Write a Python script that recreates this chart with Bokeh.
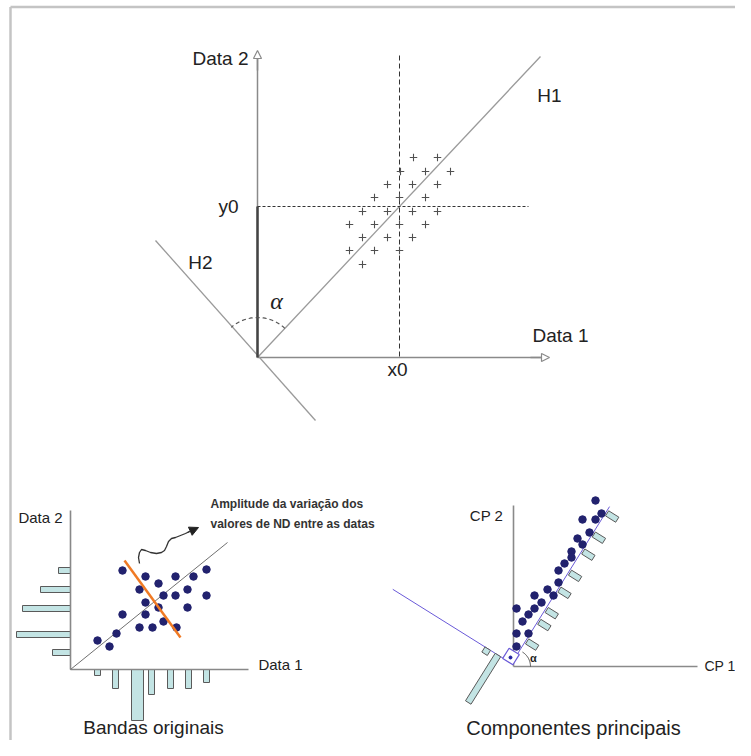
import numpy as np
from bokeh.plotting import figure
from bokeh.models import Range1d, Arrow, NormalHead
from bokeh.core.properties import value
from bokeh.embed import file_html
from bokeh.resources import INLINE

# ---------------- data ----------------
# top panel: "+" scatter
plus_x = [413, 437, 400, 425, 450, 387, 412, 437, 374, 399, 425, 362, 387, 412, 437,
          349, 374, 399, 425, 362, 387, 412, 349, 374, 399, 362]
plus_y = [157, 157, 171, 171, 171, 184, 184, 184, 197, 197, 197, 211, 211, 211, 211,
          224, 224, 224, 224, 237, 237, 237, 250, 250, 250, 264]
x0_val = 399
y0_val = 206

# bottom-left: original bands scatter
band_x = [122, 145, 158, 175, 193, 206, 139, 163, 175, 187, 206, 145, 158, 187,
          122, 145, 139, 152, 163, 176, 116, 97, 109]
band_y = [570, 576, 583, 576, 576, 569, 589, 595, 595, 589, 595, 602, 607, 607,
          614, 614, 627, 627, 621, 627, 633, 640, 646]
# histogram on Data 2 (horizontal bars) and Data 1 (vertical bars)
hist2_pos = [570, 589, 608, 634, 652]
hist2_len = [12, 30, 48, 54, 18]
hist1_pos = [97, 115, 137, 151, 170, 188, 206]
hist1_len = [6, 19, 51, 25, 19, 19, 13]
hist1_wid = [6, 6, 12, 6, 6, 6, 6]

# bottom-right: principal components scatter
pc_x = [595, 601, 582, 595, 589, 577, 582, 571, 571, 564, 558, 558, 547, 534,
        553, 541, 534, 528, 516, 522, 516, 528, 516]
pc_y = [500, 513, 519, 519, 532, 538, 544, 551, 557, 563, 570, 582, 589, 595,
        595, 602, 608, 614, 608, 621, 633, 633, 646]
# histogram along CP axes: position along axis, bar length
pc1_bar_pos = [27, 50, 64, 88, 108, 133, 153, 178]
pc1_bar_len = [12, 12, 12, 12, 12, 12, 12, 12]
pc2_bar_pos = [16, 28]
pc2_bar_len = [56, 6]

# ---------------- figure ----------------
p = figure(width=735, height=740, x_range=Range1d(0, 735), y_range=Range1d(740, 0),
           output_backend="svg", toolbar_location=None, min_border=0,
           x_axis_type=None, y_axis_type=None)
p.grid.visible = False
p.outline_line_color = None
p.background_fill_color = "white"

FONT = "Liberation Sans"


def txt(x, y, s, size, align="center", baseline="middle", color="#222222",
        style="normal", font=FONT):
    p.text(x=[x], y=[y], text=[s], text_font=value(font),
           text_font_size=f"{size}px", text_align=align, text_baseline=baseline,
           text_color=color, text_font_style=style)


def arc_pts(cx, cy, r, a0, a1, n=40):
    a = np.radians(np.linspace(a0, a1, n))
    return cx + r * np.cos(a), cy + r * np.sin(a)


def rot_rect(cx, cy, length, width, ang):
    u = np.array([np.cos(np.radians(ang)), np.sin(np.radians(ang))])
    v = np.array([-u[1], u[0]])
    c = np.array([cx, cy])
    pts = [c + length / 2 * u + width / 2 * v, c + length / 2 * u - width / 2 * v,
           c - length / 2 * u - width / 2 * v, c - length / 2 * u + width / 2 * v]
    return [q[0] for q in pts], [q[1] for q in pts]


# frame
p.line([10, 735], [6.5, 6.5], line_color="#c4c4c4", line_width=2.5)
p.line([10, 10], [6.5, 740], line_color="#c4c4c4", line_width=2.5)

# ---------------- top panel ----------------
ox, oy = 257, 357
AX = "#8a8a8a"
# axes
p.line([ox, ox], [oy, 57], line_color=AX, line_width=1.5)
p.line([ox, 542], [oy, oy], line_color=AX, line_width=1.5)
p.add_layout(Arrow(end=NormalHead(size=8, fill_color="white", line_color=AX, line_width=1.2),
                   x_start=ox, y_start=70, x_end=ox, y_end=50, line_color=AX, line_width=1.5))
p.add_layout(Arrow(end=NormalHead(size=8, fill_color="white", line_color=AX, line_width=1.2),
                   x_start=530, y_start=oy, x_end=549, y_end=oy, line_color=AX, line_width=1.5))
# H1 and H2
p.line([ox, 540], [oy, 56], line_color="#9a9a9a", line_width=1.3)
p.line([155, 315], [240, 420], line_color="#9a9a9a", line_width=1.3)
# dashed reference lines
p.line([x0_val, x0_val], [55, oy], line_color="#333333", line_width=1, line_dash="5 3")
p.line([ox, 528], [y0_val, y0_val], line_color="#333333", line_width=1.2, line_dash="3 2")
# thick y segment
p.line([ox, ox], [y0_val, oy], line_color="#444444", line_width=2.5)
# angle arc
axx, ayy = arc_pts(ox, oy, 40, -46.8, -131.1)
p.line(axx, ayy, line_color="#555555", line_width=1.2, line_dash="4 3")
# scatter
p.scatter(plus_x, plus_y, marker="cross", size=7.5, line_color="#505050", line_width=1.1)

txt(248, 58, "Data 2", 19, align="right")
txt(549, 95, "H1", 19)
txt(238, 206, "y0", 19, align="right")
txt(200, 262, "H2", 19)
txt(276, 300, "α", 24, style="italic", font="Liberation Serif")
txt(560, 335, "Data 1", 19)
txt(397, 369, "x0", 19)

# ---------------- bottom-left panel ----------------
bx, by = 70, 669
CY = "#c3e4e4"
OUT = "#5a5a5a"
p.quad(left=[bx - l for l in hist2_len], right=[bx] * len(hist2_len),
       top=[c - 3 for c in hist2_pos], bottom=[c + 3 for c in hist2_pos],
       fill_color=CY, line_color=OUT, line_width=1)
p.quad(left=[c - w / 2 for c, w in zip(hist1_pos, hist1_wid)],
       right=[c + w / 2 for c, w in zip(hist1_pos, hist1_wid)],
       top=[by] * len(hist1_pos), bottom=[by + l for l in hist1_len],
       fill_color=CY, line_color=OUT, line_width=1)
p.line([bx, bx], [510, by], line_color="#888888", line_width=1.6)
p.line([bx, 248], [by, by], line_color="#888888", line_width=1.6)
p.line([bx, 227], [by, 542], line_color="#707070", line_width=1)
p.scatter(band_x, band_y, size=7.5, fill_color="#22226e", line_color="#22226e")
p.line([124, 180], [560, 637], line_color="#f07a24", line_width=2.5)
# wavy arrow
wx = [139, 138, 139, 141, 145, 150, 156, 161, 164, 166, 168, 171, 175, 180, 185, 189]
wy = [563, 557, 552, 549, 550, 552, 553, 552, 550, 546, 541, 538, 537, 535, 533, 531]
p.line(wx, wy, line_color="#333333", line_width=1.3)
p.add_layout(Arrow(end=NormalHead(size=9, fill_color="#222222", line_color="#222222"),
                   x_start=187, y_start=532, x_end=198, y_end=527,
                   line_color="#333333", line_width=1.3))

txt(40, 517, "Data 2", 15)
txt(280, 664, "Data 1", 15)
txt(210, 503, "Amplitude da variação dos", 12, align="left", style="bold", color="#333333")
txt(210, 523, "valores de ND entre as datas", 12, align="left", style="bold", color="#333333")
txt(153, 727, "Bandas originais", 19)

# ---------------- bottom-right panel ----------------
cx0, cy0 = 513, 666
p.line([cx0, cx0], [505, cy0], line_color="#8a8a8a", line_width=1.6)
p.line([cx0, 697], [cy0, cy0], line_color="#8a8a8a", line_width=1.6)
BL = "#6a5ad8"
lo_x, lo_y = 511, 663
main_ang = -58.0
side_ang = -148.0
d1 = np.array([np.cos(np.radians(main_ang)), np.sin(np.radians(main_ang))])
d2 = np.array([np.cos(np.radians(side_ang)), np.sin(np.radians(side_ang))])
p.line([lo_x, lo_x + 185 * d1[0]], [lo_y, lo_y + 185 * d1[1]], line_color=BL, line_width=1)
p.line([lo_x, lo_x + 140 * d2[0]], [lo_y, lo_y + 140 * d2[1]], line_color=BL, line_width=1)

# bars along CP1 axis (perpendicular, sticking out to the lower right)
perp1 = main_ang + 90
u1 = np.array([np.cos(np.radians(perp1)), np.sin(np.radians(perp1))])
xs, ys = [], []
for t, L in zip(pc1_bar_pos, pc1_bar_len):
    c = np.array([lo_x, lo_y]) + t * d1 + (L / 2 + 1.5) * u1
    rx, ry = rot_rect(c[0], c[1], L, 6, perp1)
    xs.append(rx)
    ys.append(ry)
# bars along second axis (perpendicular, sticking out to the lower left)
perp2 = side_ang - 90
u2 = np.array([np.cos(np.radians(perp2)), np.sin(np.radians(perp2))])
for t, L in zip(pc2_bar_pos, pc2_bar_len):
    c = np.array([lo_x, lo_y]) + t * d2 + (L / 2) * u2
    rx, ry = rot_rect(c[0], c[1], L, 6.5, perp2)
    xs.append(rx)
    ys.append(ry)
p.patches(xs, ys, fill_color=CY, line_color=OUT, line_width=1)

# right-angle marker square
sx, sy = rot_rect(510.5, 656, 12, 12, perp1)
p.patch(sx, sy, fill_color="white", line_color=BL, line_width=1.2)
p.scatter([510], [657], size=3, fill_color="#2020a0", line_color="#2020a0")

p.scatter(pc_x, pc_y, size=7.5, fill_color="#22226e", line_color="#22226e")

# angle arc
ax2, ay2 = arc_pts(cx0, cy0, 17, 0, main_ang)
p.line(ax2, ay2, line_color="#444444", line_width=1)

txt(486, 515, "CP 2", 15)
txt(704, 665, "CP 1", 14, align="left")
txt(533, 657, "α", 11, style="bold")
txt(573, 727, "Componentes principais", 20)

open("out.html", "w").write(file_html(p, INLINE))
